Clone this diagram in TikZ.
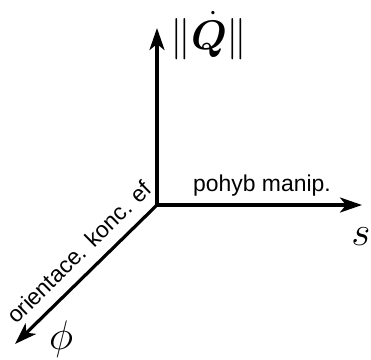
\documentclass[tikz,border=0pt]{standalone}
\usepackage{fontspec}
\setmainfont{Liberation Sans}
\usepackage{amsmath,bm}
\usetikzlibrary{positioning,arrows.meta}
\tikzset{
 axis/.style={line width=1.6bp, -{Stealth[length=11bp, width=7.5bp, inset=3bp]}},
 axlabel/.style={font=\fontsize{22}{26}\selectfont, inner sep=0pt},
 desc/.style={font=\fontsize{11.5}{14}\selectfont, inner sep=0pt},
}
\begin{document}
\begin{tikzpicture}[x=0.5bp, y=-0.5bp]
\useasboundingbox (0,0) rectangle (371,360);
% axes
\coordinate (o) at (157,205);
\coordinate (qtip) at (157,28);
\coordinate (stip) at (362,205);
\coordinate (ftip) at (15,344);
\draw[axis] (o) -- (qtip);
\draw[axis] (o) -- (stip);
\draw[axis] (o) -- (ftip);
% labels
\node[axlabel, anchor=base west] (qlab) at (170,49) {$\|\dot{\bm{Q}}\|$};
\node[axlabel, anchor=base] (slab) at (361,245) {$s$};
\node[axlabel, anchor=base] (flab) at (61,349) {$\phi$};
\node[desc, anchor=base] (smotion) at (262,191) {pohyb manip.};
\node[desc, anchor=base, rotate=44.4] (forient) at (85,258) {orientace. konc. ef};
\end{tikzpicture}
\end{document}
